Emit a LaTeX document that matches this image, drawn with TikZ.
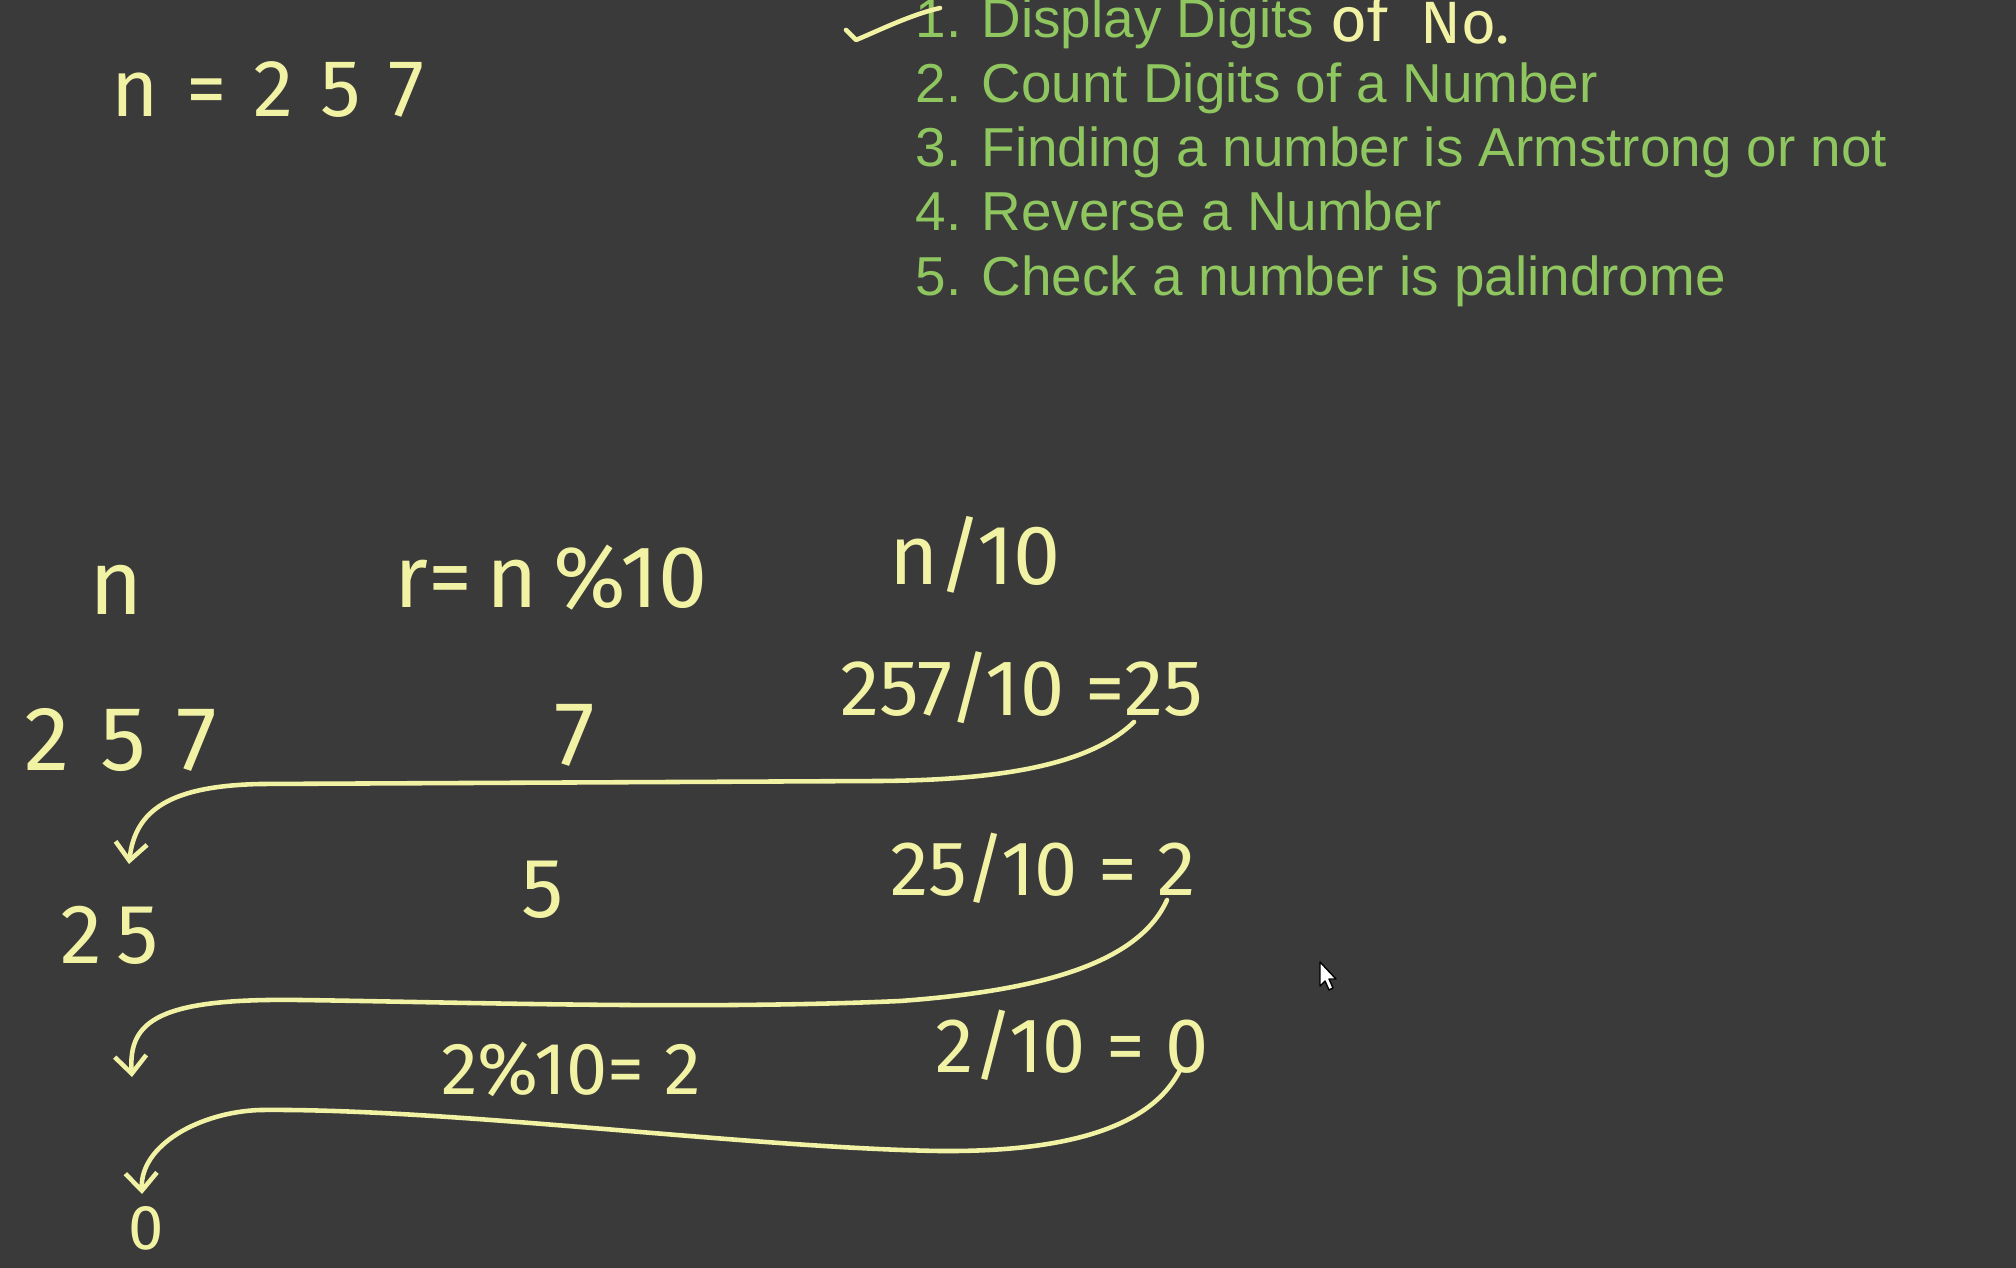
\documentclass[tikz,border=0pt]{standalone}
\usepackage{fontspec}
\setmainfont{Liberation Sans}
\newfontfamily\handfont{Fira Sans}
\usetikzlibrary{arrows.meta}
\definecolor{bg}{RGB}{58,58,58}
\definecolor{lgreen}{RGB}{143,198,96}
\definecolor{hy}{RGB}{242,242,165}
\begin{document}
\begin{tikzpicture}[x=0.01cm,y=-0.01cm,
  item/.style={anchor=base west, inner sep=0pt, text=lgreen, font=\fontsize{15.6}{18}\selectfont},
  hw/.style={text=hy, inner sep=0pt, font=\handfont\fontsize{#1}{#1}\selectfont},
  flow/.style={draw=hy, line width=1.3pt, line cap=round, -{Straight Barb[length=5pt,width=9pt,line width=1.3pt]}},
  stroke/.style={draw=hy, line width=1.3pt, line cap=round, line join=round}]
\useasboundingbox (0,0) rectangle (2016,1268);
\clip (0,0) rectangle (2016,1268);
\fill[bg] (0,0) rectangle (2016,1268);

% green list
\node[item] (i1) at (915,38) {1. Display Digits};
\node[item] (i2) at (915,103) {2. Count Digits of a Number};
\node[item] (i3) at (915,167) {3. Finding a number is Armstrong or not};
\node[item] (i4) at (915,231) {4. Reverse a Number};
\node[item] (i5) at (915,296) {5. Check a number is palindrome};
\node[hw=18, anchor=base west] (of) at (1330,42) {of};
\node[hw=17, anchor=base west] (no) at (1420,44) {No.};
\draw[stroke] (846,30) -- (856,40) .. controls (880,30) and (910,15) .. (940,8);

% top value
\node[hw=23] (n0) at (268,90) {n\,\,=\,\,2\,\,5\,\,7};

% table headers
\node[hw=26] (hn) at (116,590) {n};
\node[hw=25] (hr) at (551,578) {r=\,n\,\%10};
\node[hw=24] (hd) at (975,555) {n/10};

% rows
\node[hw=26] (a1) at (121,740) {2\,\,5\,\,7};
\node[hw=26] (b1) at (575,735) {7};
\node[hw=22.5] (q1) at (1022,688) {257/10 =25};

\node[hw=24] (a2) at (110,935) {2\,5};
\node[hw=24] (b2) at (543,890) {5};
\node[hw=22] (q2) at (1043,868) {25/10 = 2};

\node[hw=21] (b3) at (571,1069) {2\%10= 2};
\node[hw=22] (q3) at (1072,1045) {2/10 = 0};

\node[hw=18] (a4) at (146,1228) {0};

% connectors
\coordinate (s1) at (1134,722);
\coordinate (e1) at (129,864);
\coordinate (s2) at (1167,900);
\coordinate (e2) at (132,1077);
\coordinate (s3) at (1180,1070);
\coordinate (e3) at (142,1194);

\draw[flow] (s1) .. controls (1090,765) and (1000,780) .. (880,781)
  -- (260,784) .. controls (170,786) and (135,810) .. (e1);
\draw[flow] (s2) .. controls (1140,960) and (1050,990) .. (900,1001)
  .. controls (700,1010) and (450,1002) .. (300,1000)
  .. controls (160,998) and (128,1020) .. (e2);
\draw[flow] (s3) .. controls (1150,1130) and (1060,1152) .. (940,1151)
  .. controls (750,1148) and (450,1108) .. (260,1110)
  .. controls (200,1112) and (140,1145) .. (e3);

% mouse cursor
\draw[fill=white, draw=black, line width=0.4pt, line join=round]
  (1320,962) -- (1320,986) -- (1325,981) -- (1329,990) -- (1333,988)
  -- (1329,979) -- (1336,979) -- cycle;
\end{tikzpicture}
\end{document}
